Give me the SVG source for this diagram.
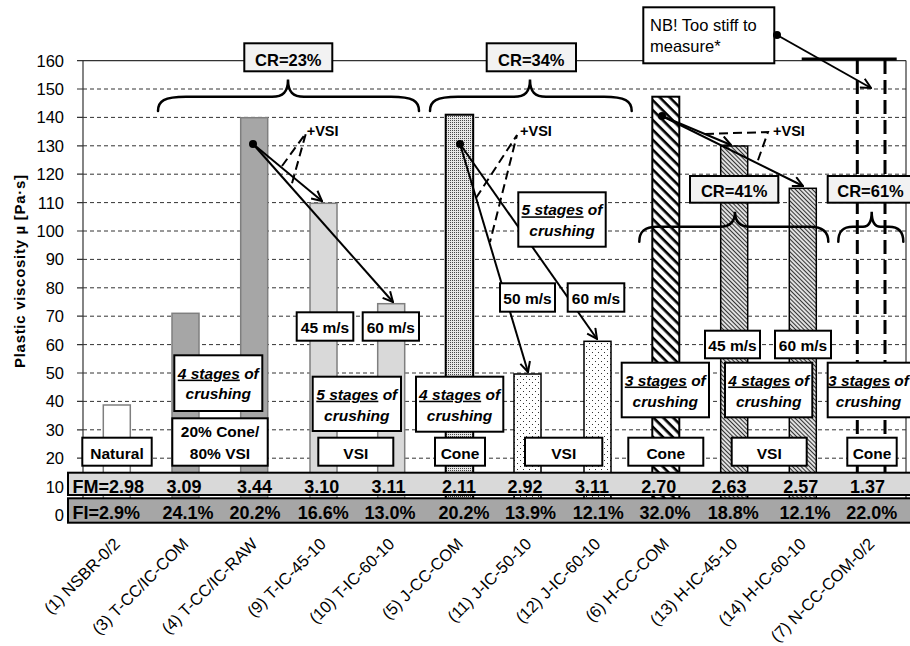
<svg xmlns="http://www.w3.org/2000/svg" width="910" height="646" viewBox="0 0 910 646">
<style>
text{font-family:"Liberation Sans",Arial,sans-serif;fill:#000}
.ax{font-size:16.5px;text-anchor:end}
.row{font-size:18px;font-weight:bold;text-anchor:middle}
.bx{fill:#fff;stroke:#000;stroke-width:2}
.cr{fill:#f2f2f2;stroke:#000;stroke-width:2}
.bt{font-size:15.5px;font-weight:bold;text-anchor:middle}
.st{font-size:15.5px;font-weight:bold;font-style:italic;text-anchor:middle}
.ul{text-decoration:underline}
.crt{font-size:16.5px;font-weight:bold;text-anchor:middle}
.grid{stroke:#333;stroke-width:1;stroke-dasharray:4 3}
.brace{fill:none;stroke:#000;stroke-width:2.5;stroke-linecap:round}
.arrow{stroke:#000;stroke-width:2;fill:none;marker-end:url(#ah)}
.wedge{stroke:#000;stroke-width:2;fill:none;stroke-dasharray:9 5}
.vsi{font-size:14.5px;font-weight:bold}
.xl{font-size:16.5px;text-anchor:end}
.gb{stroke:#7f7f7f;stroke-width:1.5}
.kb{stroke:#000;stroke-width:1.5}
</style>
<defs>
<marker id="ah" viewBox="0 0 12 12" refX="11" refY="6" markerWidth="12" markerHeight="12" markerUnits="userSpaceOnUse" orient="auto">
<path d="M1,1 L11,6 L1,11" fill="none" stroke="#000" stroke-width="2"/>
</marker>
<pattern id="pDense" width="2" height="2" patternUnits="userSpaceOnUse">
<rect width="2" height="2" fill="#e8e8e8"/><rect width="1" height="1" fill="#4a4a4a"/>
</pattern>
<pattern id="pSparse" width="6" height="6" patternUnits="userSpaceOnUse">
<rect width="6" height="6" fill="#fff"/><rect x="1" y="1" width="1" height="1" fill="#333"/><rect x="4" y="4" width="1" height="1" fill="#333"/>
</pattern>
<pattern id="pBold" width="7" height="7" patternUnits="userSpaceOnUse" patternTransform="rotate(45)">
<rect width="7" height="7" fill="#fff"/><rect width="7" height="2.6" fill="#000"/>
</pattern>
<pattern id="pFine" width="3" height="3" patternUnits="userSpaceOnUse" patternTransform="rotate(45)">
<rect width="3" height="3" fill="#e0e0e0"/><rect width="3" height="1" fill="#333"/>
</pattern>
</defs>
<rect width="910" height="646" fill="#fff"/>

<g id="grid">
<line class="grid" x1="83" y1="89" x2="906" y2="89"/>
<line class="grid" x1="83" y1="117.4" x2="906" y2="117.4"/>
<line class="grid" x1="83" y1="145.8" x2="906" y2="145.8"/>
<line class="grid" x1="83" y1="174.2" x2="906" y2="174.2"/>
<line class="grid" x1="83" y1="202.6" x2="906" y2="202.6"/>
<line class="grid" x1="83" y1="231" x2="906" y2="231"/>
<line class="grid" x1="83" y1="259.4" x2="906" y2="259.4"/>
<line class="grid" x1="83" y1="287.8" x2="906" y2="287.8"/>
<line class="grid" x1="83" y1="316.2" x2="906" y2="316.2"/>
<line class="grid" x1="83" y1="344.6" x2="906" y2="344.6"/>
<line class="grid" x1="83" y1="373" x2="906" y2="373"/>
<line class="grid" x1="83" y1="401.4" x2="906" y2="401.4"/>
<line class="grid" x1="83" y1="429.8" x2="906" y2="429.8"/>
<line class="grid" x1="83" y1="458.2" x2="906" y2="458.2"/>
</g>

<g id="axes" stroke="#333" stroke-width="1.2">
<line x1="77" y1="60.6" x2="906" y2="60.6"/>
<line x1="906" y1="60.6" x2="906" y2="515"/>
<line x1="83" y1="60.6" x2="83" y2="515"/>
<path d="M77,89H83M77,117.4H83M77,145.8H83M77,174.2H83M77,202.6H83M77,231H83M77,259.4H83M77,287.8H83M77,316.2H83M77,344.6H83M77,373H83M77,401.4H83M77,429.8H83M77,458.2H83"/>
</g>

<g id="y-labels" class="ax">
<text x="64" y="66.6" class="ax">160</text>
<text x="64" y="95" class="ax">150</text>
<text x="64" y="123.4" class="ax">140</text>
<text x="64" y="151.8" class="ax">130</text>
<text x="64" y="180.2" class="ax">120</text>
<text x="64" y="208.6" class="ax">110</text>
<text x="64" y="237" class="ax">100</text>
<text x="64" y="265.4" class="ax">90</text>
<text x="64" y="293.8" class="ax">80</text>
<text x="64" y="322.2" class="ax">70</text>
<text x="64" y="350.6" class="ax">60</text>
<text x="64" y="379" class="ax">50</text>
<text x="64" y="407.4" class="ax">40</text>
<text x="64" y="435.8" class="ax">30</text>
<text x="64" y="464.2" class="ax">20</text>
<text x="64" y="492.6" class="ax">10</text>
<text x="64" y="521" class="ax">0</text>
</g>
<text transform="translate(25,271.5) rotate(-90)" text-anchor="middle" font-size="15" font-weight="bold" textLength="193">Plastic viscosity µ [Pa·s]</text>

<g id="bar-1"><rect x="103.3" y="405" width="27" height="110" fill="#fff" class="gb"/></g>
<g id="bar-3"><rect x="172" y="313.3" width="27" height="201.7" fill="#a6a6a6" class="gb"/></g>
<g id="bar-4"><rect x="240.7" y="117.7" width="27" height="397.3" fill="#a6a6a6" class="gb"/></g>
<g id="bar-9"><rect x="310" y="203.3" width="27" height="311.7" fill="#d9d9d9" class="gb"/></g>
<g id="bar-10"><rect x="377.7" y="303.7" width="27" height="211.3" fill="#d9d9d9" class="gb"/></g>
<g id="bar-5"><rect x="445.7" y="114.7" width="27.5" height="400.3" fill="url(#pDense)" stroke="#000" stroke-width="2"/></g>
<g id="bar-11"><rect x="514" y="374" width="27" height="141" fill="url(#pSparse)" class="kb"/></g>
<g id="bar-12"><rect x="584" y="341.3" width="27" height="173.7" fill="url(#pSparse)" class="kb"/></g>
<g id="bar-6"><rect x="652.3" y="96.7" width="27" height="418.3" fill="url(#pBold)" stroke="#000" stroke-width="2"/></g>
<g id="bar-13"><rect x="720.7" y="146" width="27" height="369" fill="url(#pFine)" class="kb"/></g>
<g id="bar-14"><rect x="789.3" y="188.3" width="27" height="326.7" fill="url(#pFine)" class="kb"/></g>
<g id="bar-7" stroke="#000" stroke-width="3" fill="none">
<line x1="857.3" y1="60" x2="857.3" y2="473" stroke-dasharray="14 6"/>
<line x1="885" y1="60" x2="885" y2="473" stroke-dasharray="14 6"/>
<line x1="801.7" y1="59" x2="896.7" y2="59"/>
</g>

<g id="braces">
<path class="brace" d="M158,111 C158,101 164,96.7 186,96.7 L272,96.7 C283,96.7 288,92 288,79.5 C288,92 293,96.7 304,96.7 L391,96.7 C413,96.7 419,101 419,111"/>
<path class="brace" d="M430,111 C430,101 436,96.7 458,96.7 L514,96.7 C525,96.7 530,92 530,79.5 C530,92 535,96.7 546,96.7 L604,96.7 C625,96.7 631.7,101 631.7,111"/>
<path class="brace" d="M639.3,241.7 C639.3,232 644,226.7 657,226.7 L720,226.7 C730,226.7 735,222 735,211.7 C735,222 740,226.7 750,226.7 L810,226.7 C823,226.7 828.3,232 828.3,241.7"/>
<path class="brace" d="M838.3,241.7 C838.3,232 842,226.7 853,226.7 L863,226.7 C869,226.7 871.7,222 871.7,211.7 C871.7,222 874.5,226.7 880.5,226.7 L889,226.7 C899,226.7 903.3,232 903.3,241.7"/>
</g>

<g id="connectors">
<line class="arrow" x1="253" y1="144" x2="322" y2="201"/>
<line class="arrow" x1="253" y1="144" x2="393" y2="302"/>
<polyline class="wedge" points="282,166 306,133 291,187"/>
<line class="arrow" x1="460" y1="144" x2="528" y2="372"/>
<line class="arrow" x1="460" y1="144" x2="597" y2="339"/>
<polyline class="wedge" points="476,198 517,135 490,242"/>
<line class="arrow" x1="662" y1="116" x2="731" y2="145"/>
<line class="arrow" x1="662" y1="116" x2="803" y2="186"/>
<polyline class="wedge" points="705,134 768,132 757,163"/>
<line class="arrow" x1="777" y1="35" x2="871" y2="88"/>
<circle cx="253" cy="144" r="4"/>
<circle cx="460" cy="144" r="4"/>
<circle cx="662" cy="116" r="4"/>
</g>

<g id="vsi-labels" class="vsi">
<text x="306.7" y="135.7" class="vsi">+VSI</text>
<text x="520" y="135.7" class="vsi">+VSI</text>
<text x="773" y="135.7" class="vsi">+VSI</text>
</g>

<g id="cr23"><rect class="cr" x="244.3" y="43.3" width="88" height="28"/><text class="crt" x="288.3" y="65.5">CR=23%</text></g>
<g id="cr34"><rect class="cr" x="486.7" y="43.3" width="89.3" height="28"/><text class="crt" x="531.3" y="65.5">CR=34%</text></g>
<g id="cr41"><rect class="cr" x="690" y="176" width="88.3" height="26.7"/><text class="crt" x="734.2" y="197.3">CR=41%</text></g>
<g id="cr61"><rect class="cr" x="827.7" y="176" width="88" height="26.7"/><text class="crt" x="870.5" y="197.3">CR=61%</text></g>
<g id="nb"><rect class="bx" x="643.3" y="7.3" width="131" height="56"/>
<text x="650" y="31" font-size="16.5">NB! Too stiff to</text>
<text x="650" y="52" font-size="16.5">measure*</text>
<circle cx="777" cy="35" r="4"/></g>

<g id="lbl-natural"><rect class="bx" x="82.3" y="437.7" width="69.4" height="28"/><text class="bt" x="117" y="459">Natural</text></g>
<g id="lbl-mix"><rect class="bx" x="172.3" y="418.3" width="95.4" height="47.4"/><text class="bt" x="220" y="437.3">20% Cone/</text><text class="bt" x="220" y="459">80% VSI</text></g>
<g id="lbl-t-stages"><rect class="bx" x="174.3" y="355.3" width="88" height="55.7"/><text class="st" x="218.3" y="378.6"><tspan class="ul">4 stages</tspan> of</text><text class="st" x="218.3" y="399.3">crushing</text></g>
<g id="lbl-t-45"><rect class="bx" x="296.7" y="312.3" width="56.6" height="28.4"/><text class="bt" x="325" y="333.3">45 m/s</text></g>
<g id="lbl-t-60"><rect class="bx" x="362.7" y="312.3" width="56.3" height="28.4"/><text class="bt" x="390.8" y="333.3">60 m/s</text></g>
<g id="lbl-t-5stages"><rect class="bx" x="312.7" y="376.7" width="88.3" height="54.3"/><text class="st" x="356.8" y="399.7"><tspan class="ul">5 stages</tspan> of</text><text class="st" x="356.8" y="420.7">crushing</text></g>
<g id="lbl-t-vsi"><rect class="bx" x="318.3" y="437.7" width="75" height="28"/><text class="bt" x="355.8" y="459">VSI</text></g>
<g id="lbl-j-stages"><rect class="bx" x="416" y="376.7" width="87.3" height="55"/><text class="st" x="459.6" y="399.7"><tspan class="ul">4 stages</tspan> of</text><text class="st" x="459.6" y="420.7">crushing</text></g>
<g id="lbl-j-cone"><rect class="bx" x="435" y="437.7" width="50" height="28"/><text class="bt" x="460" y="459">Cone</text></g>
<g id="lbl-j-5stages"><rect class="bx" x="518.3" y="192.3" width="87.4" height="54.4"/><text class="st" x="562" y="215.3"><tspan class="ul">5 stages</tspan> of</text><text class="st" x="562" y="236.3">crushing</text></g>
<g id="lbl-j-50"><rect class="bx" x="500" y="283.3" width="55" height="28.4"/><text class="bt" x="527.5" y="304.3">50 m/s</text></g>
<g id="lbl-j-60"><rect class="bx" x="567.7" y="283.3" width="56.6" height="28.4"/><text class="bt" x="596" y="304.3">60 m/s</text></g>
<g id="lbl-j-vsi"><rect class="bx" x="525" y="437.7" width="77.3" height="28"/><text class="bt" x="563.7" y="459">VSI</text></g>
<g id="lbl-h-stages"><rect class="bx" x="621.7" y="362.7" width="87.3" height="54.6"/><text class="st" x="665.3" y="385.5"><tspan class="ul">3 stages</tspan> of</text><text class="st" x="665.3" y="406.5">crushing</text></g>
<g id="lbl-h-cone"><rect class="bx" x="628.3" y="437.7" width="75" height="28"/><text class="bt" x="665.8" y="459">Cone</text></g>
<g id="lbl-h-45"><rect class="bx" x="705" y="330.7" width="55" height="27.6"/><text class="bt" x="732.5" y="351">45 m/s</text></g>
<g id="lbl-h-60"><rect class="bx" x="775" y="330.7" width="56" height="27.6"/><text class="bt" x="803" y="351">60 m/s</text></g>
<g id="lbl-h-4stages"><rect class="bx" x="725" y="362.7" width="87.3" height="54.6"/><text class="st" x="768.7" y="385.5"><tspan class="ul">4 stages</tspan> of</text><text class="st" x="768.7" y="406.5">crushing</text></g>
<g id="lbl-h-vsi"><rect class="bx" x="731.7" y="437.7" width="75" height="28"/><text class="bt" x="769.2" y="459">VSI</text></g>
<g id="lbl-n-stages"><rect class="bx" x="827.7" y="362.7" width="88" height="54.6"/><text class="st" x="868.5" y="385.5" font-size="15px"><tspan class="ul">3 stages</tspan> of</text><text class="st" x="868.5" y="406.5" font-size="15px">crushing</text></g>
<g id="lbl-n-cone"><rect class="bx" x="847.3" y="437.7" width="49.4" height="28"/><text class="bt" x="872" y="459">Cone</text></g>

<g id="fm-row">
<rect x="68" y="472.7" width="846" height="22.3" fill="#d9d9d9" stroke="#000" stroke-width="2"/>
<text x="72.5" y="492.5" font-size="18" font-weight="bold">FM=2.98</text>
<text class="row" x="184" y="492.5">3.09</text>
<text class="row" x="254.5" y="492.5">3.44</text>
<text class="row" x="321.7" y="492.5">3.10</text>
<text class="row" x="388.5" y="492.5">3.11</text>
<text class="row" x="459" y="492.5">2.11</text>
<text class="row" x="525" y="492.5">2.92</text>
<text class="row" x="592" y="492.5">3.11</text>
<text class="row" x="658.8" y="492.5">2.70</text>
<text class="row" x="729" y="492.5">2.63</text>
<text class="row" x="800.8" y="492.5">2.57</text>
<text class="row" x="867.5" y="492.5">1.37</text>
</g>
<g id="fi-row">
<rect x="68" y="498.3" width="846" height="24.4" fill="#a6a6a6" stroke="#000" stroke-width="2"/>
<text x="72.5" y="519" font-size="18" font-weight="bold">FI=2.9%</text>
<text class="row" x="188" y="519">24.1%</text>
<text class="row" x="255" y="519">20.2%</text>
<text class="row" x="323.3" y="519">16.6%</text>
<text class="row" x="390" y="519">13.0%</text>
<text class="row" x="464" y="519">20.2%</text>
<text class="row" x="530.5" y="519">13.9%</text>
<text class="row" x="598.3" y="519">12.1%</text>
<text class="row" x="665" y="519">32.0%</text>
<text class="row" x="733.3" y="519">18.8%</text>
<text class="row" x="805" y="519">12.1%</text>
<text class="row" x="871.7" y="519">22.0%</text>
</g>

<g id="x-labels" class="xl">
<text class="xl" transform="translate(121,545) rotate(-45)">(1) NSBR-0/2</text>
<text class="xl" transform="translate(189.5,545) rotate(-45)">(3) T-CC/IC-COM</text>
<text class="xl" transform="translate(258.5,545) rotate(-45)">(4) T-CC/IC-RAW</text>
<text class="xl" transform="translate(327,545) rotate(-45)">(9) T-IC-45-10</text>
<text class="xl" transform="translate(395.5,545) rotate(-45)">(10) T-IC-60-10</text>
<text class="xl" transform="translate(464,545) rotate(-45)">(5) J-CC-COM</text>
<text class="xl" transform="translate(532.5,545) rotate(-45)">(11) J-IC-50-10</text>
<text class="xl" transform="translate(601.5,545) rotate(-45)">(12) J-IC-60-10</text>
<text class="xl" transform="translate(670,545) rotate(-45)">(6) H-CC-COM</text>
<text class="xl" transform="translate(738.5,545) rotate(-45)">(13) H-IC-45-10</text>
<text class="xl" transform="translate(807,545) rotate(-45)">(14) H-IC-60-10</text>
<text class="xl" transform="translate(875.5,545) rotate(-45)">(7) N-CC-COM-0/2</text>
</g>
</svg>
